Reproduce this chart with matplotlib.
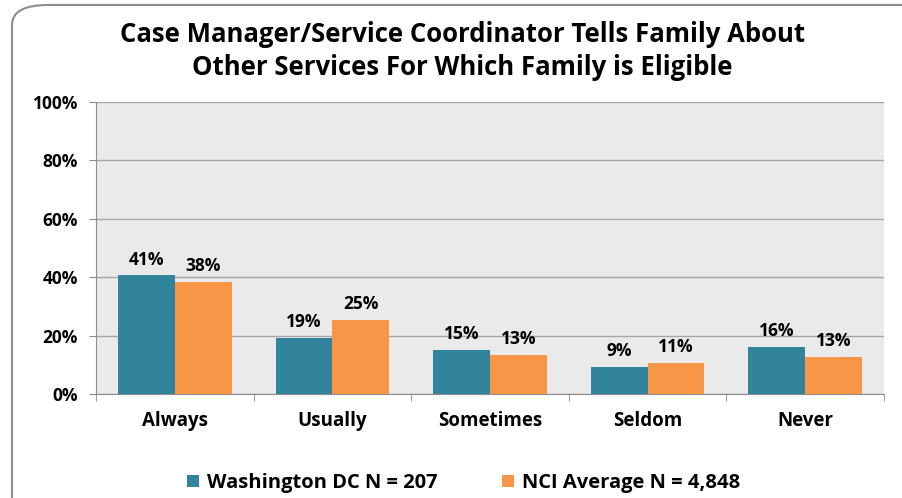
import matplotlib
matplotlib.use("Agg")
import matplotlib.pyplot as plt
import numpy as np
from matplotlib.patches import FancyBboxPatch

TEAL, ORANGE = "#31849b", "#f79646"
categories = ["Always", "Usually", "Sometimes", "Seldom", "Never"]
dc_vals = [40.6, 19.3, 15.1, 9.2, 16.0]
nci_vals = [38.3, 25.2, 13.5, 10.7, 12.8]
dc_labels = ["41%", "19%", "15%", "9%", "16%"]
nci_labels = ["38%", "25%", "13%", "11%", "13%"]
series_names = ["Washington DC N = 207", "NCI Average N = 4,848"]

plt.rcParams["font.family"] = ["Open Sans", "DejaVu Sans"]

fig = plt.figure(figsize=(9.03, 4.98), dpi=100)
fig.patches.append(FancyBboxPatch((12 / 903, -0.1), 1.1, 1.09,
                                  boxstyle="round,pad=0,rounding_size=0.04",
                                  transform=fig.transFigure, fill=False,
                                  edgecolor="#8c8c8c", lw=1.5))

ax = fig.add_axes([96 / 903, 1 - 394 / 498, (884 - 96) / 903, (394 - 102) / 498])
ax.set_facecolor("#eaeaea")
x = np.arange(len(categories))
w = 0.36
b1 = ax.bar(x - w / 2, dc_vals, w, color=TEAL, label=series_names[0], zorder=3)
b2 = ax.bar(x + w / 2, nci_vals, w, color=ORANGE, label=series_names[1], zorder=3)
for bars, labs in ((b1, dc_labels), (b2, nci_labels)):
    for rect, lab in zip(bars, labs):
        ax.annotate(lab, (rect.get_x() + rect.get_width() / 2, rect.get_height()),
                    xytext=(0, 5), textcoords="offset points", ha="center",
                    va="bottom", fontsize=12.5, fontweight="bold")

ax.set_xlim(-0.5, len(categories) - 0.5)
ax.set_ylim(0, 100)
ax.set_yticks(range(0, 101, 20))
ax.set_yticklabels([f"{v}%" for v in range(0, 101, 20)], fontsize=12.5,
                   fontweight="bold")
ax.grid(axis="y", color="#a6a6a6", lw=1, zorder=0)
ax.set_xticks(x)
ax.set_xticklabels(categories, fontsize=13.5, fontweight="bold")
ax.set_xticks(np.arange(-0.5, len(categories)), minor=True)
ax.tick_params(axis="x", which="major", length=0, pad=12)
ax.tick_params(axis="x", which="minor", length=5, color="#8c8c8c")
ax.tick_params(axis="y", length=5, color="#8c8c8c", pad=8)
for s in ("top", "right"):
    ax.spines[s].set_visible(False)
for s in ("left", "bottom"):
    ax.spines[s].set_color("#8c8c8c")

fig.text(0.512, 1 - 51 / 498,
         "Case Manager/Service Coordinator Tells Family About\n"
         "Other Services For Which Family is Eligible",
         ha="center", va="center", fontsize=18.5, fontweight="bold",
         linespacing=1.3)

fig.legend(handles=[b1, b2], labels=series_names, loc="center",
           bbox_to_anchor=(0.513, 1 - 483 / 498), ncol=2, frameon=False,
           prop={"size": 14.5, "weight": "bold"}, handlelength=0.6,
           handleheight=0.6, columnspacing=3.2, handletextpad=0.4)

fig.savefig("out.png", dpi=100)
